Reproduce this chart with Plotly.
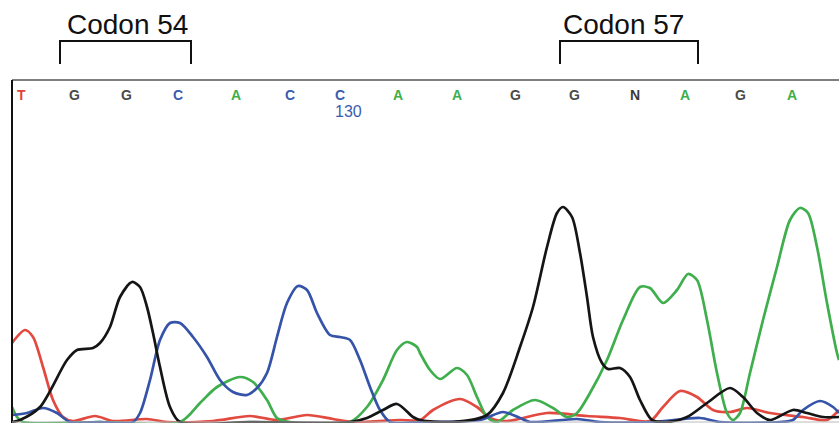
import plotly.graph_objects as go

# Base calls and their peak positions (scan units)
bases = list("TGGCACCAAGGNAGA")
base_pos = [21, 74, 126, 178, 236, 290, 340, 398, 457, 515, 574, 635, 685, 740, 792]
base_colors = {"T": "#e0443c", "G": "#4a4a4a", "C": "#3a5cb0", "A": "#3fae4c", "N": "#3a3a3a"}
pos_label_index = 6
pos_label_text = "130"

# Chromatogram traces (scan position, signal intensity)
black_x = [12, 20, 40, 67, 77, 93, 100, 110, 120, 132, 140, 147, 153, 160, 170, 180, 250, 350, 367, 383, 397, 413, 420, 453, 487, 503, 520, 533, 547, 557, 563, 572, 580, 587, 593, 602, 608, 620, 630, 640, 652, 667, 687, 707, 730, 743, 757, 770, 793, 807, 823, 839]
black_y = [0, 2, 15, 62, 72, 74, 79, 95, 125, 140, 135, 115, 89, 55, 15, 0, 0, 0, 4, 12, 18, 5, 2, 0, 7, 29, 75, 115, 175, 209, 215, 205, 169, 125, 85, 59, 53, 54, 45, 22, 2, 0, 5, 19, 34, 25, 9, 2, 12, 9, 5, 5]

blue_x = [12, 27, 43, 57, 70, 100, 133, 140, 150, 160, 170, 180, 193, 207, 220, 233, 247, 257, 267, 277, 287, 298, 307, 317, 330, 340, 350, 360, 370, 380, 390, 420, 480, 503, 520, 530, 577, 600, 653, 700, 720, 780, 793, 803, 820, 833, 839]
blue_y = [7, 9, 14, 9, 0, 0, 0, 9, 42, 82, 99, 99, 85, 65, 42, 30, 27, 34, 49, 85, 119, 136, 132, 109, 87, 85, 82, 62, 35, 12, 0, 0, 2, 10, 4, 0, 3, 0, 0, 4, 0, 0, 2, 12, 21, 15, 9]

red_x = [12, 25, 33, 43, 53, 63, 73, 95, 113, 147, 167, 213, 250, 277, 307, 333, 353, 400, 420, 433, 460, 477, 490, 507, 547, 587, 620, 650, 663, 680, 697, 713, 730, 747, 770, 803, 827, 839]
red_y = [79, 92, 85, 55, 22, 5, 1, 6, 1, 3, 0, 1, 6, 2, 7, 3, 0, 2, 2, 12, 23, 15, 4, 1, 9, 6, 4, 1, 15, 31, 25, 12, 10, 14, 9, 5, 2, 12]

green_x = [12, 17, 23, 100, 180, 200, 217, 240, 253, 267, 277, 290, 350, 367, 383, 397, 407, 417, 420, 430, 440, 457, 467, 477, 487, 497, 513, 535, 553, 567, 577, 590, 607, 623, 640, 650, 663, 677, 688, 697, 707, 717, 727, 733, 740, 750, 763, 777, 790, 800, 808, 817, 827, 837, 839]
green_y = [15, 5, 0, 0, 0, 19, 35, 45, 40, 22, 4, 0, 0, 15, 42, 72, 80, 75, 69, 52, 43, 54, 47, 25, 5, 0, 12, 22, 14, 5, 9, 29, 62, 102, 135, 134, 119, 132, 148, 142, 102, 49, 9, 2, 9, 49, 102, 155, 202, 214, 209, 175, 119, 69, 62]

codon_labels = ["Codon 54", "Codon 57"]
codon_base_ranges = [(1, 3), (10, 12)]

W, H = 839, 423
TOP = 342        # intensity level of the frame's top line
LEFT = 12

fig = go.Figure()
for xs, ys, col in [(red_x, red_y, "#e2493f"), (green_x, green_y, "#3fae4c"),
                    (blue_x, blue_y, "#3553a8"), (black_x, black_y, "#151515")]:
    fig.add_trace(go.Scatter(x=xs, y=ys, mode="lines",
                             line=dict(color=col, width=2.7, shape="spline", smoothing=0.8),
                             hoverinfo="skip", showlegend=False))

shapes = [
    dict(type="line", x0=LEFT, x1=W, y0=TOP, y1=TOP, line=dict(color="#555555", width=1.6)),
    dict(type="line", x0=LEFT, x1=LEFT, y0=-1, y1=TOP, line=dict(color="#111111", width=2)),
    dict(type="line", x0=LEFT, x1=W, y0=0, y1=0, line=dict(color="#bbbbbb", width=1)),
]
annotations = []
for b, p in zip(bases, base_pos):
    annotations.append(dict(x=p, y=327, text=f"<b>{b}</b>", showarrow=False, xanchor="center", yanchor="middle",
                            font=dict(family="Liberation Sans, Arial", size=14, color=base_colors[b])))
annotations.append(dict(x=base_pos[pos_label_index] + 8, y=311, text=pos_label_text, showarrow=False,
                        xanchor="center", yanchor="middle",
                        font=dict(family="Liberation Sans, Arial", size=16, color=base_colors["C"])))

text_offsets = [2, -6]
for lab, (i0, i1), off in zip(codon_labels, codon_base_ranges, text_offsets):
    x0 = base_pos[i0] - 14
    x1 = base_pos[i1] + 13
    shapes.append(dict(type="path", path=f"M {x0},358 L {x0},381 L {x1},381 L {x1},358",
                       line=dict(color="#111111", width=2)))
    annotations.append(dict(x=(x0 + x1) / 2 + off, y=398, text=lab, showarrow=False,
                            xanchor="center", yanchor="middle",
                            font=dict(family="Liberation Sans, Arial", size=28, color="#111111")))

fig.update_layout(
    width=W, height=H, margin=dict(l=0, r=0, t=0, b=0),
    paper_bgcolor="white", plot_bgcolor="white",
    xaxis=dict(range=[0, W], visible=False, fixedrange=True),
    yaxis=dict(range=[-1, H - 1], visible=False, fixedrange=True),
    shapes=shapes, annotations=annotations,
)
fig.write_html("out.html", config={"displayModeBar": False})
